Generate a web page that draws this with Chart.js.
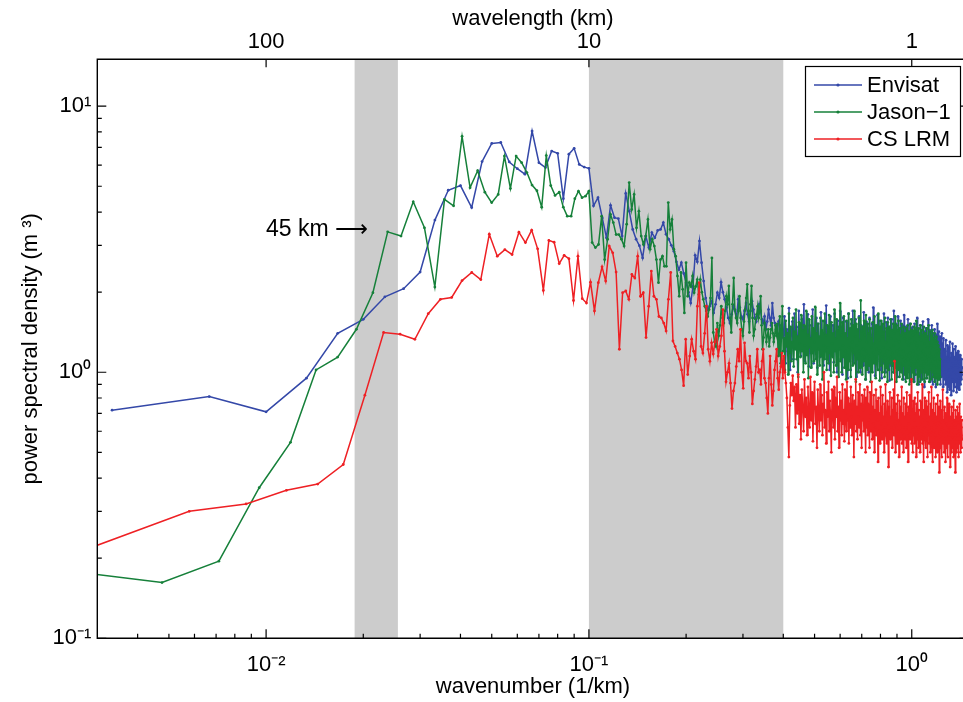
<!DOCTYPE html>
<html>
<head>
<meta charset="utf-8">
<script src="https://cdn.jsdelivr.net/npm/chart.js@4.4.1/dist/chart.umd.min.js"></script>
<style>
html,body{margin:0;padding:0;background:#fff;overflow:hidden;width:963px;height:702px}
#wrap{position:relative;width:970px;height:702px}
</style>
</head>
<body>
<div id="wrap"><canvas id="c" width="970" height="702"></canvas></div>
<script>
// ---------- data ----------
const seriesNames = ['Envisat', 'Jason\u22121', 'CS LRM'];
// wavenumber spacing of each spectrum (1/km)
const envisatStep = 1 / 300;
const jasonStep = 0.00238;
const cryosatStep = 0.00289;

const envisatPSD = [
0.72,0.81,0.71,0.95,1.40,1.58,1.92,2.06,2.38,3.73,
4.83,5.03,4.16,6.19,7.24,7.30,6.17,5.82,5.55,8.06,
6.13,5.88,6.78,6.65,4.49,6.60,6.94,6.04,5.90,5.84,
4.22,4.53,3.80,3.20,4.24,3.81,3.78,3.25,4.70,4.03,
3.44,3.16,2.99,2.69,3.25,2.94,3.35,3.20,3.41,3.44,
3.65,3.30,3.16,3.00,2.85,2.60,2.43,2.58,2.35,2.17,
2.00,1.82,2.10,2.75,2.60,3.11,2.58,2.20,1.90,1.72,
1.77,1.85,1.67,1.80,1.99,1.90,2.18,2.00,1.88,1.75,
1.60,1.53,1.65,1.77,1.70,1.60,1.88,1.75,1.62,1.58,
1.70,1.82,1.65,1.55,1.70,1.85,1.72,1.60,1.55,1.65,
1.80,1.70,1.58,1.53,1.62,1.45,1.55,1.72,1.60,1.50,
1.82,1.60,1.53,1.45,1.40,1.55,1.50,1.38,1.45,1.35,
1.62,1.08,1.45,1.20,1.74,1.02,1.38,1.55,1.12,1.66,
1.25,1.48,1.00,1.70,1.30,1.15,1.58,1.22,1.80,1.10,
1.42,1.28,1.65,1.05,1.50,1.18,1.36,1.72,1.08,1.44,
1.26,1.60,1.04,1.52,1.32,1.14,1.68,1.20,1.40,1.06,
1.55,1.24,1.78,1.12,1.46,1.30,1.02,1.62,1.18,1.38,
1.50,1.09,1.66,1.26,1.42,1.00,1.56,1.22,1.34,1.70,
1.12,1.48,0.98,1.60,1.20,1.38,1.05,1.55,1.28,0.95,
1.66,1.15,1.42,1.02,1.52,1.24,1.70,1.08,1.36,1.18,
1.58,0.96,1.45,1.22,1.12,1.62,1.30,1.00,1.50,1.16,
1.40,1.06,1.68,1.20,1.34,0.94,1.55,1.26,1.10,1.46,
1.00,1.60,1.22,1.38,1.04,1.52,1.14,1.75,1.18,1.30,
0.97,1.48,1.24,1.10,1.64,1.20,1.40,1.02,1.56,1.12,
1.36,0.95,1.50,1.26,1.08,1.66,1.18,1.42,1.00,1.54,
1.22,1.10,1.60,1.16,1.34,0.93,1.48,1.28,1.06,1.58,
1.14,1.44,1.00,1.70,1.20,1.32,1.05,1.52,1.18,1.40,
0.96,1.62,1.24,1.10,1.46,1.02,1.56,1.20,1.36,1.08,
1.50,1.14,0.94,1.64,1.22,1.38,1.04,1.48,1.16,1.30,
1.00,1.58,1.12,1.42,1.06,1.52,1.20,0.92,1.46,1.26,
1.05,1.48,1.10,1.35,0.92,1.52,1.16,1.28,0.98,1.44,
1.12,1.60,1.02,1.30,0.90,1.40,1.18,1.06,1.50,1.14,
0.94,1.38,1.22,1.00,1.55,1.10,1.32,0.88,1.42,1.16,
1.04,1.46,1.20,0.95,1.36,1.12,1.58,1.00,1.28,1.08,
1.44,0.92,1.34,1.18,1.02,1.50,1.10,1.26,0.90,1.40,
1.14,0.98,1.45,1.06,1.30,0.88,1.38,1.20,1.00,1.52,
1.08,1.32,0.94,1.42,1.12,1.02,1.36,0.90,1.26,1.16,
0.96,1.40,1.06,1.28,0.88,1.34,1.10,1.00,1.22,0.94,
1.20,0.90,1.32,1.00,1.14,0.84,1.26,0.96,1.10,0.88,
1.24,1.02,0.86,1.30,0.98,1.12,0.82,1.18,1.04,0.92,
1.28,0.94,1.08,0.85,1.22,1.00,1.14,0.88,1.06,1.25,
0.92,1.10,0.84,1.18,0.98,1.04,0.87,1.20,0.95,1.12,
0.86,1.08,1.00,1.16,0.90,1.05,0.94,1.12,0.98,1.04
];

const jasonPSD = [
0.18,0.162,0.195,0.368,0.545,1.02,1.14,1.45,1.99,3.37,
3.25,4.37,3.49,2.09,4.46,4.22,7.70,4.94,5.72,4.75,
4.34,4.66,6.49,4.90,6.49,6.13,5.63,5.05,4.81,4.17,
6.52,5.03,4.62,4.75,4.17,3.86,3.86,4.49,4.79,4.53,
4.59,4.79,3.07,2.94,3.02,3.86,2.65,3.16,3.92,3.65,
3.29,3.29,3.16,2.98,3.60,5.16,4.09,4.66,3.49,4.03,
3.25,3.02,3.25,3.75,2.90,3.16,2.98,2.65,2.17,2.65,
2.73,2.50,2.50,4.34,3.44,3.75,2.90,2.73,2.30,1.93,
2.37,2.05,1.67,2.58,1.93,2.17,2.10,2.30,1.99,2.10,
2.23,1.96,2.23,2.00,1.88,1.77,1.70,1.62,1.72,1.90,
2.69,1.41,1.30,1.25,1.53,1.37,1.50,1.77,1.60,1.53,
1.70,1.93,1.80,2.11,1.60,1.41,1.80,2.26,1.72,1.60,
1.53,1.70,1.93,1.60,1.45,1.37,1.55,1.72,1.90,2.14,
1.70,1.41,1.80,2.11,1.60,1.37,1.45,1.58,1.65,1.77,
1.60,1.70,1.93,1.50,1.22,1.35,1.53,1.45,1.30,1.37,
1.45,1.25,1.35,1.45,1.53,1.40,1.30,1.37,1.50,1.40,
1.52,1.15,1.38,1.62,1.08,1.45,1.77,1.20,1.34,1.02,
1.56,1.25,1.40,0.98,1.66,1.18,1.48,1.10,1.30,1.60,
1.05,1.42,1.22,1.72,1.12,1.36,0.96,1.54,1.28,1.14,
1.64,1.20,1.44,1.00,1.50,1.26,1.08,1.70,1.16,1.38,
0.95,1.58,1.24,1.34,1.04,1.62,1.18,1.46,1.10,1.30,
1.76,1.12,1.40,0.98,1.52,1.22,1.36,1.06,1.60,1.15,
1.44,0.94,1.56,1.26,1.12,1.66,1.20,1.38,1.02,1.50,
1.24,1.08,1.64,1.18,1.42,0.97,1.54,1.28,1.14,1.40,
1.00,1.72,1.20,1.34,1.06,1.58,1.16,1.44,0.96,1.48,
1.22,1.82,1.10,1.38,1.00,1.54,1.26,1.14,1.62,1.04,
1.40,1.20,0.94,1.56,1.16,1.34,1.02,1.66,1.24,1.10,
1.46,0.96,1.58,1.22,1.30,1.06,1.50,1.18,1.70,1.08,
1.36,0.92,1.52,1.26,1.12,1.44,1.00,1.60,1.20,1.32,
1.04,1.86,1.16,1.42,0.98,1.48,1.22,1.10,1.56,1.14,
1.38,0.94,1.64,1.20,1.30,1.02,1.52,1.16,1.40,1.06,
1.58,1.12,0.92,1.46,1.24,1.34,1.00,1.54,1.18,1.28,
1.08,1.62,1.14,1.40,0.95,1.50,1.22,1.12,1.44,1.02,
1.66,1.18,1.32,0.93,1.48,1.20,1.06,1.56,1.14,1.36,
1.00,1.52,1.24,1.10,1.42,0.96,1.60,1.16,1.30,1.04,
1.46,1.20,0.92,1.54,1.12,1.38,1.02,1.48,1.22,1.08,
1.58,1.14,1.34,0.94,1.44,1.18,1.06,1.52,1.26,1.00,
1.40,1.12,1.62,1.04,1.32,0.92,1.50,1.20,1.10,1.44,
1.02,1.56,1.16,1.30,0.96,1.46,1.22,1.08,1.38,1.00,
1.52,1.14,0.94,1.42,1.20,1.06,1.48,1.12,1.34,0.98,
1.40,1.10,0.92,1.46,1.16,1.30,0.95,1.50,1.12,1.26,
1.02,1.42,0.90,1.34,1.18,1.06,1.52,1.10,1.28,0.94,
1.44,1.14,1.00,1.38,1.20,0.92,1.48,1.08,1.30,0.98,
1.40,1.16,1.04,1.56,1.12,1.26,0.90,1.42,1.10,1.22,
0.96,1.46,1.14,1.02,1.36,0.92,1.50,1.18,1.06,1.32,
1.00,1.44,1.12,0.94,1.38,1.20,1.04,1.48,1.08,1.28,
0.92,1.40,1.16,1.00,1.34,1.10,0.95,1.46,1.14,1.24,
0.98,1.36,1.06,1.50,1.12,0.92,1.30,1.18,1.02,1.42,
1.08,1.26,0.94,1.38,1.14,1.00,1.44,1.10,1.22,0.96,
1.34,1.06,1.28,0.92,1.40,1.12,1.00,1.32,1.16,0.95,
1.36,1.04,1.20,0.90,1.30,1.10,0.98,1.26,1.06,1.18,
0.94,1.22,1.02,1.12,0.96
];

const cryosatPSD = [
0.22,0.30,0.32,0.36,0.38,0.45,0.82,1.41,1.39,1.33,
1.66,1.88,1.91,2.21,2.37,2.23,3.30,2.73,2.89,2.77,
3.36,3.07,3.42,2.91,2.03,3.13,3.08,2.56,2.75,2.67,
1.86,2.73,1.89,1.82,2.18,1.70,2.17,2.49,2.20,2.98,
2.81,2.38,1.22,1.99,2.02,1.88,2.33,2.26,2.73,1.93,
1.99,1.35,1.77,2.40,1.93,1.88,1.62,1.60,1.53,1.43,
1.88,2.37,1.31,1.25,1.18,1.12,1.02,0.89,1.33,0.98,
1.15,1.33,1.20,1.12,1.77,2.17,1.25,1.18,1.40,1.77,
1.22,1.10,1.29,1.17,1.30,1.45,1.15,1.25,1.37,1.72,
1.20,0.92,1.00,1.08,0.91,0.73,0.85,0.91,1.05,1.22,
1.10,1.45,1.00,0.87,1.29,1.10,1.08,0.95,1.15,1.00,
0.76,0.85,0.94,1.05,1.22,1.00,1.02,0.90,1.10,1.22,
0.95,0.91,0.80,0.70,0.95,1.15,0.90,0.75,0.85,1.02,
1.10,1.22,0.95,0.86,1.00,1.05,1.18,0.95,1.15,1.00,
0.91,0.80,0.62,0.48,0.75,0.91,0.82,0.97,0.78,0.88,
0.62,0.90,0.70,0.98,0.64,0.82,0.56,0.86,0.74,0.60,
0.94,0.68,0.80,0.58,0.88,0.72,0.62,0.96,0.66,0.84,
0.55,0.78,0.92,0.64,0.74,0.52,0.86,0.70,0.60,0.90,
0.66,0.82,0.58,0.76,1.00,0.62,0.72,0.54,0.84,0.68,
0.92,0.60,0.78,0.66,0.50,0.86,0.72,0.62,0.88,0.56,
0.80,0.68,0.96,0.60,0.74,0.52,0.84,0.66,0.78,0.58,
0.90,0.64,0.72,0.55,0.86,0.70,0.60,0.92,0.66,0.80,
0.54,0.76,0.62,0.88,0.68,0.58,0.82,0.72,0.48,0.78,
0.64,0.94,0.60,0.74,0.56,0.84,0.68,0.62,0.90,0.58,
0.76,0.52,0.82,0.66,0.72,0.60,0.86,0.64,0.50,0.80,
0.62,0.88,0.58,0.76,0.66,0.52,0.84,0.70,0.60,0.92,
0.56,0.74,0.64,0.82,0.50,0.72,0.62,0.86,0.58,0.78,
0.66,0.46,0.80,0.60,0.70,0.54,0.88,0.64,0.74,0.56,
0.82,0.60,0.68,0.50,0.76,0.62,0.90,0.58,0.70,0.54,
0.78,0.64,0.44,0.74,0.60,0.84,0.56,0.68,0.62,0.80,
0.52,0.72,0.60,0.86,0.58,1.10,0.64,0.50,0.76,0.62,
0.70,0.54,0.82,0.60,0.66,0.48,0.78,0.64,0.56,0.74,
0.60,0.88,0.54,0.70,0.62,0.50,0.80,0.58,0.68,0.56,
0.76,0.62,0.52,0.84,0.60,0.70,0.46,0.74,0.64,0.58,
0.82,0.56,0.68,0.60,0.94,0.54,0.72,0.62,0.50,0.78,
0.58,0.66,0.54,0.80,0.62,0.70,0.48,0.76,0.60,0.56,
0.84,0.62,0.52,0.72,0.58,0.68,0.50,0.78,0.64,0.56,
0.74,0.60,0.90,0.54,0.66,0.58,0.46,0.72,0.62,0.80,
0.56,0.70,0.52,0.78,0.60,0.66,0.48,0.74,0.58,0.64,
0.84,0.54,0.68,0.60,0.50,0.76,0.58,0.88,0.62,0.54,
0.72,0.46,0.66,0.60,0.80,0.52,0.70,0.58,0.64,0.48,
0.76,0.56,0.68,0.62,0.50,0.82,0.58,0.66,0.54,0.74,
0.42,0.64,0.60,0.78,0.52,0.70,0.56,0.62,0.48,0.72,
0.58,0.86,0.54,0.66,0.60,0.50,0.74,0.56,0.68,0.46,
0.70,0.58,0.64,0.52,0.80,0.56,0.62,0.48,0.72,0.60,
0.54,0.76,0.58,0.66,0.44,0.68,0.56,0.62,0.50,0.74,
0.60,0.52,0.70,0.58,0.64,0.48,0.78,0.56,0.66,0.54,
0.62,0.42,0.72,0.58,0.68,0.50,0.64,0.56,0.74,0.52,
0.66,0.58,0.48,0.70,0.60,0.54,0.76,0.56,0.64,0.50,
0.68,0.58,0.62,0.52,0.66,0.56
];

// axes
const xRange = [0.003, 1.5];
const yRange = [0.1, 15];
const xMajorTicks = [0.01, 0.1, 1];
const xTickLabels = ['10\u207B\u00B2', '10\u207B\u00B9', '10\u2070'];
const topTickLabels = ['100', '10', '1'];
const xMinorTicks = [0.004,0.005,0.006,0.007,0.008,0.009,0.02,0.03,0.04,0.05,0.06,0.07,0.08,0.09,0.2,0.3,0.4,0.5,0.6,0.7,0.8,0.9];
const yMajorTicks = [0.1, 1, 10];
const yTickLabels = ['10\u207B\u00B9', '10\u2070', '10\u00B9'];
const yMinorTicks = [0.2,0.3,0.4,0.5,0.6,0.7,0.8,0.9,2,3,4,5,6,7,8,9];
const shadedBands = [[0.0188, 0.0256], [0.1, 0.4]];
const annotationText = '45 km \u27F6';

// ---------- chart ----------
const FONT = "'Liberation Sans', Arial, Helvetica, sans-serif";
const colors = ['rgb(52,72,168)', 'rgb(22,128,58)', 'rgb(238,32,36)'];

function toPoints(values, step) {
  return values.map((v, i) => ({ x: (i + 1) * step, y: v }));
}

const seriesData = [
  toPoints(envisatPSD, envisatStep),
  toPoints(jasonPSD, jasonStep),
  toPoints(cryosatPSD, cryosatStep)
];

const datasets = seriesNames.map((name, i) => ({
  label: name,
  data: seriesData[i],
  borderColor: colors[i],
  backgroundColor: colors[i],
  borderWidth: 1.5,
  pointRadius: 1.4,
  pointBorderWidth: 0,
  pointHoverRadius: 0,
  tension: 0,
  order: 3 - i
}));

const decor = {
  id: 'decor',
  beforeDatasetsDraw(chart) {
    const { ctx, chartArea: a, scales: { x } } = chart;
    ctx.save();
    ctx.fillStyle = 'rgb(204,204,204)';
    shadedBands.forEach(([lo, hi]) => {
      const x0 = x.getPixelForValue(lo), x1 = x.getPixelForValue(hi);
      ctx.fillRect(x0, a.top, x1 - x0, a.bottom - a.top);
    });
    ctx.restore();
  },
  afterDatasetsDraw(chart) {
    const { ctx, chartArea: a, scales: { x, y } } = chart;
    ctx.save();
    ctx.strokeStyle = '#000';
    ctx.lineWidth = 1.4;
    ctx.beginPath();
    ctx.moveTo(a.left, a.top); ctx.lineTo(a.right, a.top);
    ctx.lineTo(a.right, a.bottom); ctx.lineTo(a.left, a.bottom);
    ctx.closePath();
    ctx.stroke();
    ctx.lineWidth = 1.2;
    ctx.beginPath();
    xMajorTicks.forEach(v => {
      const px = x.getPixelForValue(v);
      ctx.moveTo(px, a.bottom); ctx.lineTo(px, a.bottom - 9);
      ctx.moveTo(px, a.top); ctx.lineTo(px, a.top + 8);
    });
    xMinorTicks.forEach(v => {
      const px = x.getPixelForValue(v);
      ctx.moveTo(px, a.bottom); ctx.lineTo(px, a.bottom - 4.5);
    });
    yMajorTicks.forEach(v => {
      const py = y.getPixelForValue(v);
      ctx.moveTo(a.left, py); ctx.lineTo(a.left + 9, py);
      ctx.moveTo(a.right, py); ctx.lineTo(a.right - 9, py);
    });
    yMinorTicks.forEach(v => {
      const py = y.getPixelForValue(v);
      ctx.moveTo(a.left, py); ctx.lineTo(a.left + 4.5, py);
      ctx.moveTo(a.right, py); ctx.lineTo(a.right - 4.5, py);
    });
    ctx.stroke();
    ctx.restore();
  },
  afterDraw(chart) {
    const { ctx } = chart;
    ctx.save();
    // annotation
    ctx.fillStyle = '#000';
    ctx.font = '23px ' + FONT;
    ctx.textAlign = 'left';
    ctx.textBaseline = 'middle';
    ctx.fillText(annotationText, 266, 230);
    // legend
    const bx = 805.5, by = 66.5, bw = 155, bh = 90;
    ctx.fillStyle = '#fff';
    ctx.fillRect(bx, by, bw, bh);
    ctx.strokeStyle = '#000';
    ctx.lineWidth = 1.2;
    ctx.strokeRect(bx, by, bw, bh);
    const rows = [85, 112, 139];
    chart.data.datasets.forEach((ds, i) => {
      const yy = rows[i];
      ctx.strokeStyle = ds.borderColor;
      ctx.lineWidth = 1.6;
      ctx.beginPath(); ctx.moveTo(814, yy); ctx.lineTo(862, yy); ctx.stroke();
      ctx.fillStyle = ds.borderColor;
      ctx.beginPath(); ctx.arc(838, yy, 1.6, 0, Math.PI * 2); ctx.fill();
      ctx.fillStyle = '#000';
      ctx.font = '22px ' + FONT;
      ctx.textAlign = 'left';
      ctx.textBaseline = 'middle';
      ctx.fillText(ds.label, 867, yy + 1);
    });
    ctx.restore();
  }
};

const tickFont = { family: FONT, size: 22 };
const titleFont = { family: FONT, size: 22 };

new Chart(document.getElementById('c'), {
  type: 'line',
  data: { datasets },
  options: {
    responsive: false,
    devicePixelRatio: 1,
    animation: false,
    events: [],
    layout: { padding: { left: 0, right: 1, top: 0, bottom: 0 } },
    plugins: { legend: { display: false }, tooltip: { enabled: false } },
    scales: {
      x: {
        type: 'logarithmic', position: 'bottom',
        min: xRange[0], max: xRange[1],
        grid: { display: false, drawTicks: false }, border: { display: false },
        afterBuildTicks: s => { s.ticks = xMajorTicks.map(v => ({ value: v })); },
        afterFit: s => { s.height = 63.7; },
        ticks: { autoSkip: false, maxRotation: 0, padding: 13, color: '#000', font: tickFont,
          callback: (v, i) => xTickLabels[i] },
        title: { display: true, text: 'wavenumber (1/km)', color: '#000', font: titleFont, padding: { top: 0, bottom: 2 } }
      },
      x2: {
        type: 'logarithmic', position: 'top',
        min: xRange[0], max: xRange[1],
        grid: { display: false, drawTicks: false }, border: { display: false },
        afterBuildTicks: s => { s.ticks = xMajorTicks.map(v => ({ value: v })); },
        afterFit: s => { s.height = 59.3; },
        ticks: { autoSkip: false, maxRotation: 0, padding: 4, color: '#000', font: tickFont,
          callback: (v, i) => topTickLabels[i] },
        title: { display: true, text: 'wavelength (km)', color: '#000', font: titleFont, padding: { top: 6, bottom: 0 } }
      },
      y: {
        type: 'logarithmic', position: 'left',
        min: yRange[0], max: yRange[1],
        grid: { display: false, drawTicks: false }, border: { display: false },
        afterBuildTicks: s => { s.ticks = yMajorTicks.map(v => ({ value: v })); },
        afterFit: s => { s.width = 97.3; },
        ticks: { autoSkip: false, padding: 6, color: '#000', font: tickFont,
          callback: (v, i) => yTickLabels[i] },
        title: { display: true, text: 'power spectral density (m \u00B3)', color: '#000', font: titleFont, padding: { top: 18, bottom: 0 } }
      }
    }
  },
  plugins: [decor]
});
</script>
</body>
</html>
